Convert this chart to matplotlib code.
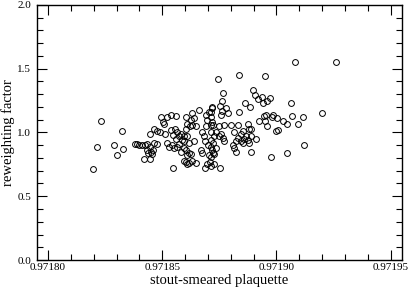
import numpy as np
import matplotlib
matplotlib.use("Agg")
import matplotlib.pyplot as plt
from matplotlib.ticker import MultipleLocator, FormatStrFormatter

# stout-smeared plaquette vs reweighting factor
plaquette = [
    0.9718230, 0.9718324, 0.9718215, 0.9718288, 0.9718327, 0.9718300, 0.9718195,
    0.9718379, 0.9718388, 0.9718399, 0.9718413, 0.9718425, 0.9718435, 0.9718446,
    0.9718464, 0.9718479, 0.9718432, 0.9718439, 0.9718457, 0.9718461, 0.9718450,
    0.9718420, 0.9718445, 0.9718446, 0.9718464, 0.9718479, 0.9718490, 0.9718495,
    0.9718502, 0.9718508, 0.9718522, 0.9718537, 0.9718561, 0.9718511, 0.9718520,
    0.9718530, 0.9718544, 0.9718552, 0.9718540, 0.9718555, 0.9718549, 0.9718564,
    0.9718574, 0.9718559, 0.9718581, 0.9718596, 0.9718588, 0.9718574, 0.9718566,
    0.9718581, 0.9718596, 0.9718546, 0.9718603, 0.9718625, 0.9718610, 0.9718628,
    0.9718640, 0.9718632, 0.9718622, 0.9718647, 0.9718659, 0.9718603, 0.9718610,
    0.9718640, 0.9718618, 0.9718596, 0.9718603, 0.9718618, 0.9718625, 0.9718610,
    0.9718593, 0.9718603, 0.9718618, 0.9718628, 0.9718610, 0.9718647, 0.9718672,
    0.9718684, 0.9718687, 0.9718669, 0.9718676, 0.9718701, 0.9718691, 0.9718705,
    0.9718716, 0.9718698, 0.9718713, 0.9718691, 0.9718687, 0.9718695, 0.9718713,
    0.9718705, 0.9718720, 0.9718713,
    0.9719080, 0.9719262, 0.9718744, 0.9718838, 0.9718950, 0.9718764, 0.9718899,
    0.9718907, 0.9718918, 0.9718937, 0.9718939, 0.9718957, 0.9718973, 0.9718864,
    0.9718884, 0.9719062, 0.9718761, 0.9718752, 0.9718779, 0.9718761, 0.9718786,
    0.9718758, 0.9718717, 0.9718713, 0.9718713, 0.9718717, 0.9718837, 0.9718947,
    0.9718954, 0.9718983, 0.9718981, 0.9719003, 0.9718925, 0.9718951, 0.9718957,
    0.9719030, 0.9719045, 0.9719069, 0.9719096, 0.9719115, 0.9719200, 0.9718998,
    0.9719005, 0.9718720, 0.9718749, 0.9718771, 0.9718801, 0.9718830, 0.9718874,
    0.9718881, 0.9718889, 0.9718713, 0.9718735, 0.9718757, 0.9718764, 0.9718771,
    0.9718749, 0.9718727, 0.9718815, 0.9718845, 0.9718852, 0.9718867, 0.9718830,
    0.9718823, 0.9718845, 0.9718859, 0.9718874, 0.9718881, 0.9718910, 0.9718889,
    0.9718808, 0.9718815, 0.9718823, 0.9718852, 0.9718889, 0.9718976, 0.9719047,
    0.9719119, 0.9718713, 0.9718723, 0.9718735, 0.9718717, 0.9718727, 0.9718713,
    0.9718709, 0.9718727, 0.9718752,
]
reweight = [
    1.09, 1.01, 0.89, 0.90, 0.87, 0.82, 0.71,
    0.91, 0.91, 0.90, 0.90, 0.90, 0.91, 0.89,
    0.92, 0.91, 0.86, 0.84, 0.83, 0.86, 0.85,
    0.79, 0.79, 0.99, 1.03, 1.01, 1.00, 1.12,
    1.08, 1.07, 1.12, 1.14, 1.13, 0.99, 0.92,
    0.89, 0.90, 0.88, 1.02, 1.03, 0.98, 1.00,
    0.97, 0.95, 0.99, 0.97, 0.94, 0.91, 0.89,
    0.85, 0.88, 0.72, 1.12, 1.10, 1.07, 1.15,
    1.11, 1.06, 1.05, 1.05, 1.18, 1.03, 0.97,
    0.93, 0.92, 0.93, 0.86, 0.84, 0.83, 0.82,
    0.78, 0.77, 0.76, 0.78, 0.75, 0.76, 1.00,
    0.97, 0.93, 0.86, 0.84, 0.90, 1.14, 1.16,
    1.19, 1.10, 1.06, 1.05, 0.72, 0.75, 0.74,
    0.82, 0.84, 0.89,
    1.55, 1.55, 1.42, 1.45, 1.44, 1.31, 1.33,
    1.29, 1.26, 1.28, 1.23, 1.25, 1.27, 1.23,
    1.20, 1.23, 1.25, 1.21, 1.19, 1.17, 1.15,
    1.14, 1.20, 1.16, 1.12, 1.08, 1.16, 1.13,
    1.14, 1.14, 1.12, 1.11, 1.09, 1.09, 1.05,
    1.09, 1.07, 1.13, 1.07, 1.12, 1.15, 1.01,
    1.02, 1.06, 1.05, 1.06, 1.06, 1.06, 1.07,
    1.03, 1.03, 1.00, 1.00, 0.99, 0.96, 0.93,
    0.97, 0.97, 1.00, 0.99, 1.01, 0.97, 0.96,
    0.93, 0.93, 0.95, 0.94, 0.92, 0.95, 0.97,
    0.90, 0.88, 0.85, 0.92, 0.85, 0.81, 0.84,
    0.90, 0.94, 0.92, 0.88, 0.86, 0.83, 0.81,
    0.77, 0.75, 0.72,
]

plt.rcParams['font.family'] = ['Liberation Serif', 'DejaVu Serif']

fig = plt.figure(figsize=(4.09, 2.91), dpi=100)
ax = fig.add_axes([0.0897, 0.1065, 0.8933, 0.8765])

ax.plot(plaquette, reweight, linestyle='none', marker='o', markersize=4.2,
        markerfacecolor='none', markeredgecolor='black', markeredgewidth=0.7)

ax.set_xlim(0.971795, 0.971955)
ax.set_ylim(0.0, 2.0)
ax.xaxis.set_major_locator(MultipleLocator(0.00005))
ax.xaxis.set_minor_locator(MultipleLocator(0.00001))
ax.yaxis.set_major_locator(MultipleLocator(0.5))
ax.yaxis.set_minor_locator(MultipleLocator(0.1))
ax.xaxis.set_major_formatter(FormatStrFormatter('%.5f'))
ax.yaxis.set_major_formatter(FormatStrFormatter('%.1f'))

ax.tick_params(which='both', direction='in', top=True, right=True,
               labelsize=8, width=0.8)
ax.tick_params(which='major', length=7)
ax.tick_params(axis='x', which='major', pad=2.5)
ax.tick_params(axis='y', which='major', pad=4)
ax.tick_params(which='minor', length=4)
for sp in ax.spines.values():
    sp.set_linewidth(1.0)

ax.set_xlabel('stout-smeared plaquette', fontsize=10.5, labelpad=1)
ax.set_ylabel('reweighting factor', fontsize=10.5, labelpad=1.5)

fig.savefig('out.png', dpi=100)
